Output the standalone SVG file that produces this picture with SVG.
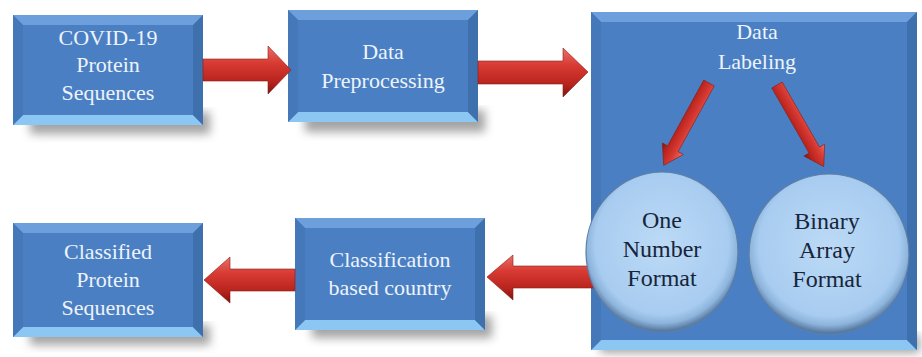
<svg xmlns="http://www.w3.org/2000/svg" width="922" height="357" viewBox="0 0 922 357">
<defs>
<filter id="blur" x="-20%" y="-20%" width="140%" height="160%"><feGaussianBlur stdDeviation="5"/></filter>
<linearGradient id="redH" x1="0" y1="0" x2="0" y2="1">
<stop offset="0" stop-color="#e8706a"/>
<stop offset="0.35" stop-color="#d83b33"/>
<stop offset="0.75" stop-color="#b8231d"/>
<stop offset="1" stop-color="#7e1410"/>
</linearGradient>
<radialGradient id="circ" cx="0.5" cy="0.45" r="0.55">
<stop offset="0" stop-color="#bcdaf6"/>
<stop offset="0.8" stop-color="#a8ccf0"/>
<stop offset="0.9" stop-color="#8db4dc"/>
<stop offset="1" stop-color="#4f6f95"/>
</radialGradient>
<style>
.face{fill:#4a80c3}
.bt{fill:#6c9fdc}
.bb{fill:#8cc6f2}
.bl{fill:#4578b8}
.br{fill:#3f70ae}
.shadow{fill:#5a5a5a;opacity:0.55;filter:url(#blur)}
.arrow{fill:url(#redH);stroke:#8a1c16;stroke-width:0.6}
text{font-family:Liberation Serif, Times New Roman, DejaVu Serif, serif}
.wt{font-size:22px;fill:#eef3fb;text-anchor:middle}
.dk{font-size:24px;fill:#17253a;text-anchor:middle}
.ring{fill:url(#circ);stroke:#5d7ea5;stroke-width:1.2}
</style>
</defs>
<rect width="922" height="357" fill="#ffffff"/>

<!-- shadows -->
<rect class="shadow" x="30" y="112" width="180" height="22"/>
<rect class="shadow" x="305" y="110" width="180" height="22"/>
<rect class="shadow" x="30" y="325" width="180" height="20"/>
<rect class="shadow" x="312" y="316" width="180" height="22"/>
<rect class="shadow" x="600" y="335" width="320" height="18"/>

<g id="node-covid">
<rect class="face" x="13" y="15" width="190" height="110"/>
<polygon class="bt" points="13,15 203,15 193,25 23,25"/>
<polygon class="bb" points="13,125 203,125 193,115 23,115"/>
<polygon class="bl" points="13,15 23,25 23,115 13,125"/>
<polygon class="br" points="203,15 193,25 193,115 203,125"/>
<text class="wt" x="108" y="45">COVID-19</text>
<text class="wt" x="108" y="72">Protein</text>
<text class="wt" x="108" y="100">Sequences</text>
</g>

<g id="node-preprocessing">
<rect class="face" x="288" y="10" width="190" height="112"/>
<polygon class="bt" points="288,10 478,10 468,20 298,20"/>
<polygon class="bb" points="288,122 478,122 468,112 298,112"/>
<polygon class="bl" points="288,10 298,20 298,112 288,122"/>
<polygon class="br" points="478,10 468,20 468,112 478,122"/>
<text class="wt" x="383" y="59">Data</text>
<text class="wt" x="383" y="88">Preprocessing</text>
</g>

<g id="node-labeling">
<rect class="face" x="591" y="12" width="326" height="338"/>
<polygon class="bt" points="591,12 917,12 907,22 601,22"/>
<polygon class="bb" points="591,350 917,350 907,340 601,340"/>
<polygon class="bl" points="591,12 601,22 601,340 591,350"/>
<polygon class="br" points="917,12 907,22 907,340 917,350"/>
<text class="wt" x="757" y="39">Data</text>
<text class="wt" x="757" y="69">Labeling</text>
</g>

<g id="node-classified">
<rect class="face" x="13" y="223" width="190" height="114"/>
<polygon class="bt" points="13,223 203,223 193,233 23,233"/>
<polygon class="bb" points="13,337 203,337 193,327 23,327"/>
<polygon class="bl" points="13,223 23,233 23,327 13,337"/>
<polygon class="br" points="203,223 193,233 193,327 203,337"/>
<text class="wt" x="108" y="259">Classified</text>
<text class="wt" x="108" y="287">Protein</text>
<text class="wt" x="108" y="315">Sequences</text>
</g>

<g id="node-classification">
<rect class="face" x="295" y="218" width="190" height="112"/>
<polygon class="bt" points="295,218 485,218 475,228 305,228"/>
<polygon class="bb" points="295,330 485,330 475,320 305,320"/>
<polygon class="bl" points="295,218 305,228 305,320 295,330"/>
<polygon class="br" points="485,218 475,228 475,320 485,330"/>
<text class="wt" x="390" y="267">Classification</text>
<text class="wt" x="390" y="295">based country</text>
</g>

<g id="connectors">
<path class="arrow" d="M203,59 L268,59 L268,46 L291,70 L268,94 L268,81 L203,81 Z"/>
<path class="arrow" d="M478,61 L563,61 L563,48 L588,72 L563,97 L563,84 L478,84 Z"/>
<path class="arrow" d="M594,266 L513,266 L513,255 L487,277 L513,300 L513,288 L594,288 Z"/>
<path class="arrow" d="M295,269 L230,269 L230,257 L204,280 L230,303 L230,291 L295,291 Z"/>
<path class="arrow" transform="translate(709,83) rotate(118.8)" d="M0,-6 L75,-6 L75,-12 L94,0 L75,12 L75,6 L0,6 Z"/>
<path class="arrow" transform="translate(777,85) rotate(60.2)" d="M0,-6 L75,-6 L75,-12 L94,0 L75,12 L75,6 L0,6 Z"/>
</g>

<g id="node-onenumber">
<ellipse class="ring" cx="662" cy="252" rx="76" ry="80"/>
<text class="dk" x="662" y="228">One</text>
<text class="dk" x="662" y="257">Number</text>
<text class="dk" x="662" y="286">Format</text>
</g>

<g id="node-binary">
<ellipse class="ring" cx="829" cy="254" rx="80" ry="80"/>
<text class="dk" x="827" y="229">Binary</text>
<text class="dk" x="827" y="258">Array</text>
<text class="dk" x="827" y="287">Format</text>
</g>
</svg>
